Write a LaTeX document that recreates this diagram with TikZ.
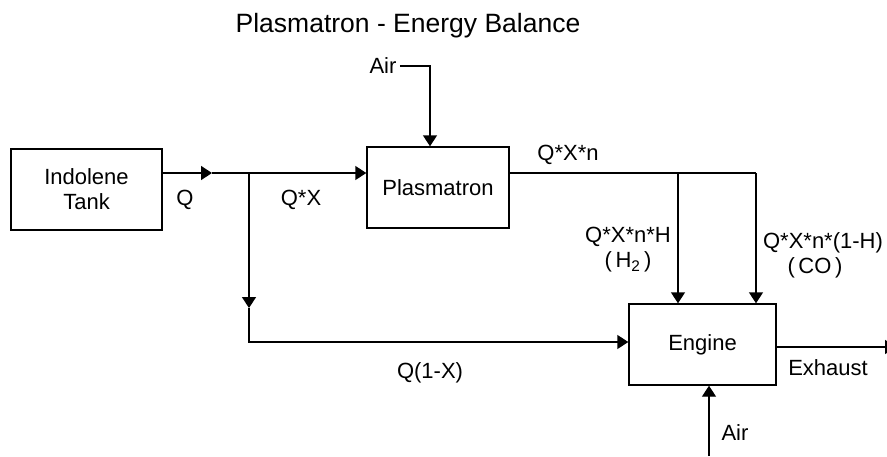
\documentclass[tikz,border=0pt]{standalone}
\usepackage{fontspec}
\setmainfont{Liberation Sans}
\usetikzlibrary{arrows.meta,positioning}

\begin{document}
\begin{tikzpicture}[x=1pt,y=-1pt]
		\tikzstyle{every node}=[font=\fontsize{22}{25}\selectfont]
		\tikzstyle{unit}=[draw, line width=1.4pt, minimum height=81pt, inner sep=0pt, align=center]
		\tikzstyle{pipe}=[line width=1.4pt]
		\tikzstyle{flow}=[line width=1.4pt, -{Triangle[length=11pt,width=14pt]}]
		\useasboundingbox (0,0) rectangle (887,456);
		\node [font=\fontsize{26.5}{30}\selectfont] (title) at (408,26) {Plasmatron - Energy Balance};
		% boxes
		\node [unit, minimum width=151pt] (tank) at (86.5,189.5) {Indolene\\Tank};
		\node [unit, minimum width=142pt] (plasma) at (438,187.5) {Plasmatron};
		\node [unit, minimum width=147pt] (engine) at (702.5,344.5) {Engine};
		% corner points
		\coordinate (split) at (249,173);
		\coordinate (qarr) at (212,173);
		\coordinate (airin) at (430,66);
		\coordinate (hsplit) at (678,173);
		\coordinate (cocorner) at (756,173);
		\coordinate (bparr) at (249,308);
		\coordinate (bypass) at (249,342);
		\coordinate (airlow) at (709,456);
		\coordinate (exout) at (896,347);
		% labels
		\node (airtop) at (383,66) {Air};
		\node (lq) at (185,200) {Q};
		\node (lqx) at (301,200) {Q*X};
		\node (lqxn) at (568,155) {Q*X*n};
		\node (lh) at (628,237) {Q*X*n*H};
		\node (lh2) at (628,262) {(\,H\textsubscript{2}\,)};
		\node (lco1) at (823,243) {Q*X*n*(1-H)};
		\node (lco) at (815,268) {(\,CO\,)};
		\node (lbypass) at (430,373) {Q(1-X)};
		\node (lexh) at (828,368) {Exhaust};
		\node (lairlow) at (735,433) {Air};
		% connectors
		\draw [flow] (tank.east |- split) -- (qarr);
		\draw [pipe] (qarr) -- (split);
		\draw [flow] (split) -- (plasma.west |- split);
		\draw [flow] (airtop.east) -- (airin) -- (plasma.north -| airin);
		\draw [pipe] (plasma.east |- split) -- (cocorner);
		\draw [flow] (hsplit) -- (engine.north -| hsplit);
		\draw [flow] (cocorner) -- (engine.north -| cocorner);
		\draw [flow] (split) -- (bparr);
		\draw [flow] (bparr) -- (bypass) -- (engine.west |- bypass);
		\draw [flow] (airlow) -- (engine.south -| airlow);
		\draw [flow] (engine.east |- exout) -- (exout);
\end{tikzpicture}
\end{document}
